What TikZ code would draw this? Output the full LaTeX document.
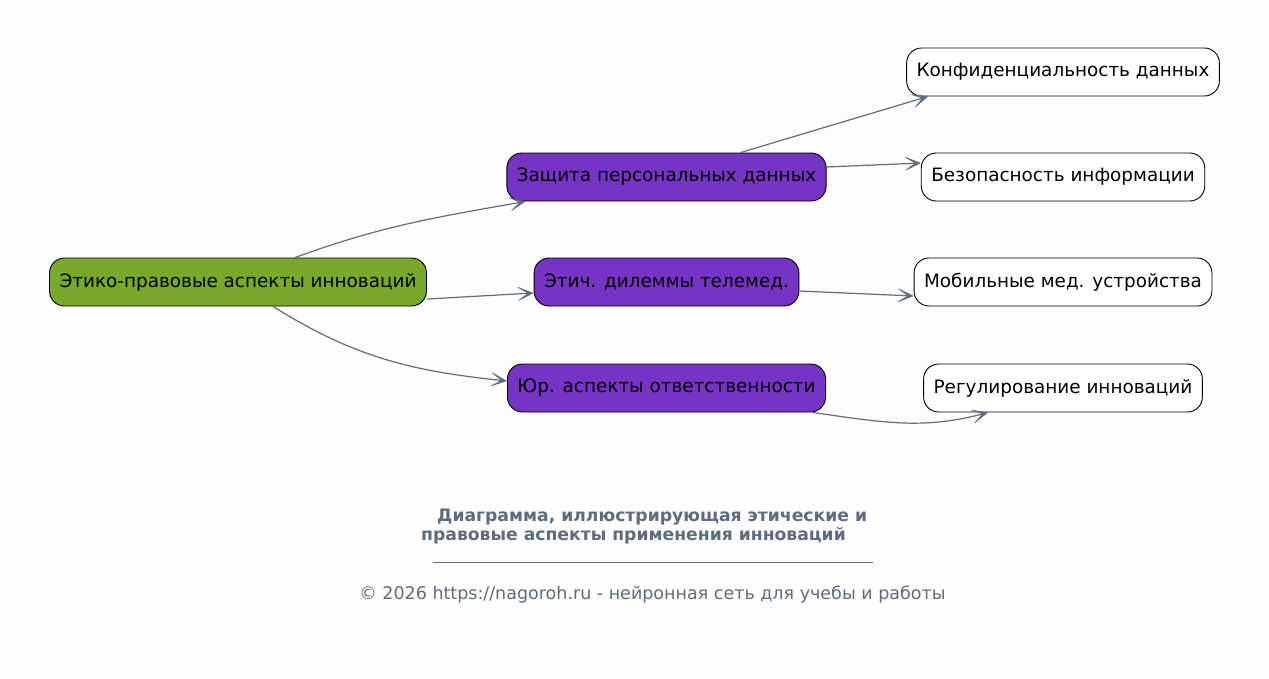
\documentclass[tikz,border=0pt]{standalone}
\usepackage{fontspec}
\setmainfont{DejaVu Sans}
\usepackage{xcolor}
\usepackage{tikz}
\usetikzlibrary{arrows.meta}
\definecolor{edgegray}{HTML}{5D6D7E}
\definecolor{rootgreen}{HTML}{78A92A}
\definecolor{midpurple}{HTML}{7634C5}
\definecolor{bggray}{HTML}{FDFDFD}
\tikzset{box/.style={rectangle,rounded corners=15pt,draw=black,line width=0.9pt,minimum height=48pt,inner xsep=10pt,font=\fontsize{18.4pt}{21pt}\selectfont},
  rootbox/.style={box,fill=rootgreen},
  midbox/.style={box,fill=midpurple},
  leafbox/.style={box,fill=white},
  link/.style={draw=edgegray,line width=1.2pt,->}}

\begin{document}
\begin{tikzpicture}[x=1pt,y=1pt,>={Stealth[length=18pt,width=16pt,inset=12pt,line width=0.5pt]}]
        \useasboundingbox[fill=bggray] (0,0) rectangle (1269,-678);

        \node[rootbox] (root)at (238,-282) {Этико-правовые аспекты инноваций};
        \node[midbox] (zash)at (666.5,-177) {Защита персональных данных};
        \node[midbox] (etich)at (666.5,-282) {Этич. дилеммы телемед.};
        \node[midbox] (yur)at (666.5,-388) {Юр. аспекты ответственности};
        \node[leafbox] (konf)at (1063,-72) {Конфиденциальность данных};
        \node[leafbox] (bez)at (1063,-177) {Безопасность информации};
        \node[leafbox] (mob)at (1063,-282) {Мобильные мед. устройства};
        \node[leafbox] (reg)at (1063,-388) {Регулирование инноваций};

        \draw [link] ([xshift=57pt]root.north) to [out=20,in=190] ([xshift=-141pt]zash.south);
        \draw [link] ([yshift=-17pt]root.east) to [] ([yshift=-11pt]etich.west);
        \draw [link] ([xshift=35pt]root.south) to [out=-32,in=174] ([yshift=7pt]yur.west);
        \draw [link] ([xshift=74pt]zash.north) to [] ([xshift=-135pt]konf.south);
        \draw [link] ([yshift=10pt]zash.east) to [] ([yshift=14pt]bez.west);
        \draw [link] ([yshift=-9pt]etich.east) to [] ([yshift=-14pt]mob.west);
        \draw [link] ([xshift=146pt]yur.south) to [out=-8,in=195] ([xshift=-75pt]reg.south);

        \node[text=edgegray,font=\bfseries\fontsize{17.2pt}{19pt}\selectfont,align=left,anchor=west,inner sep=0pt] (title)at (421,-527) {\hspace*{16pt}Диаграмма, иллюстрирующая этические и\\правовые аспекты применения инноваций};
        \draw [edgegray,line width=0.8pt] (433,-562) -- (873,-562);
        \node[text=edgegray,font=\fontsize{17.5pt}{18pt}\selectfont] (foot)at (652.5,-595) {© 2026 https://nagoroh.ru - нейронная сеть для учебы и работы};
    \end{tikzpicture}
\end{document}
